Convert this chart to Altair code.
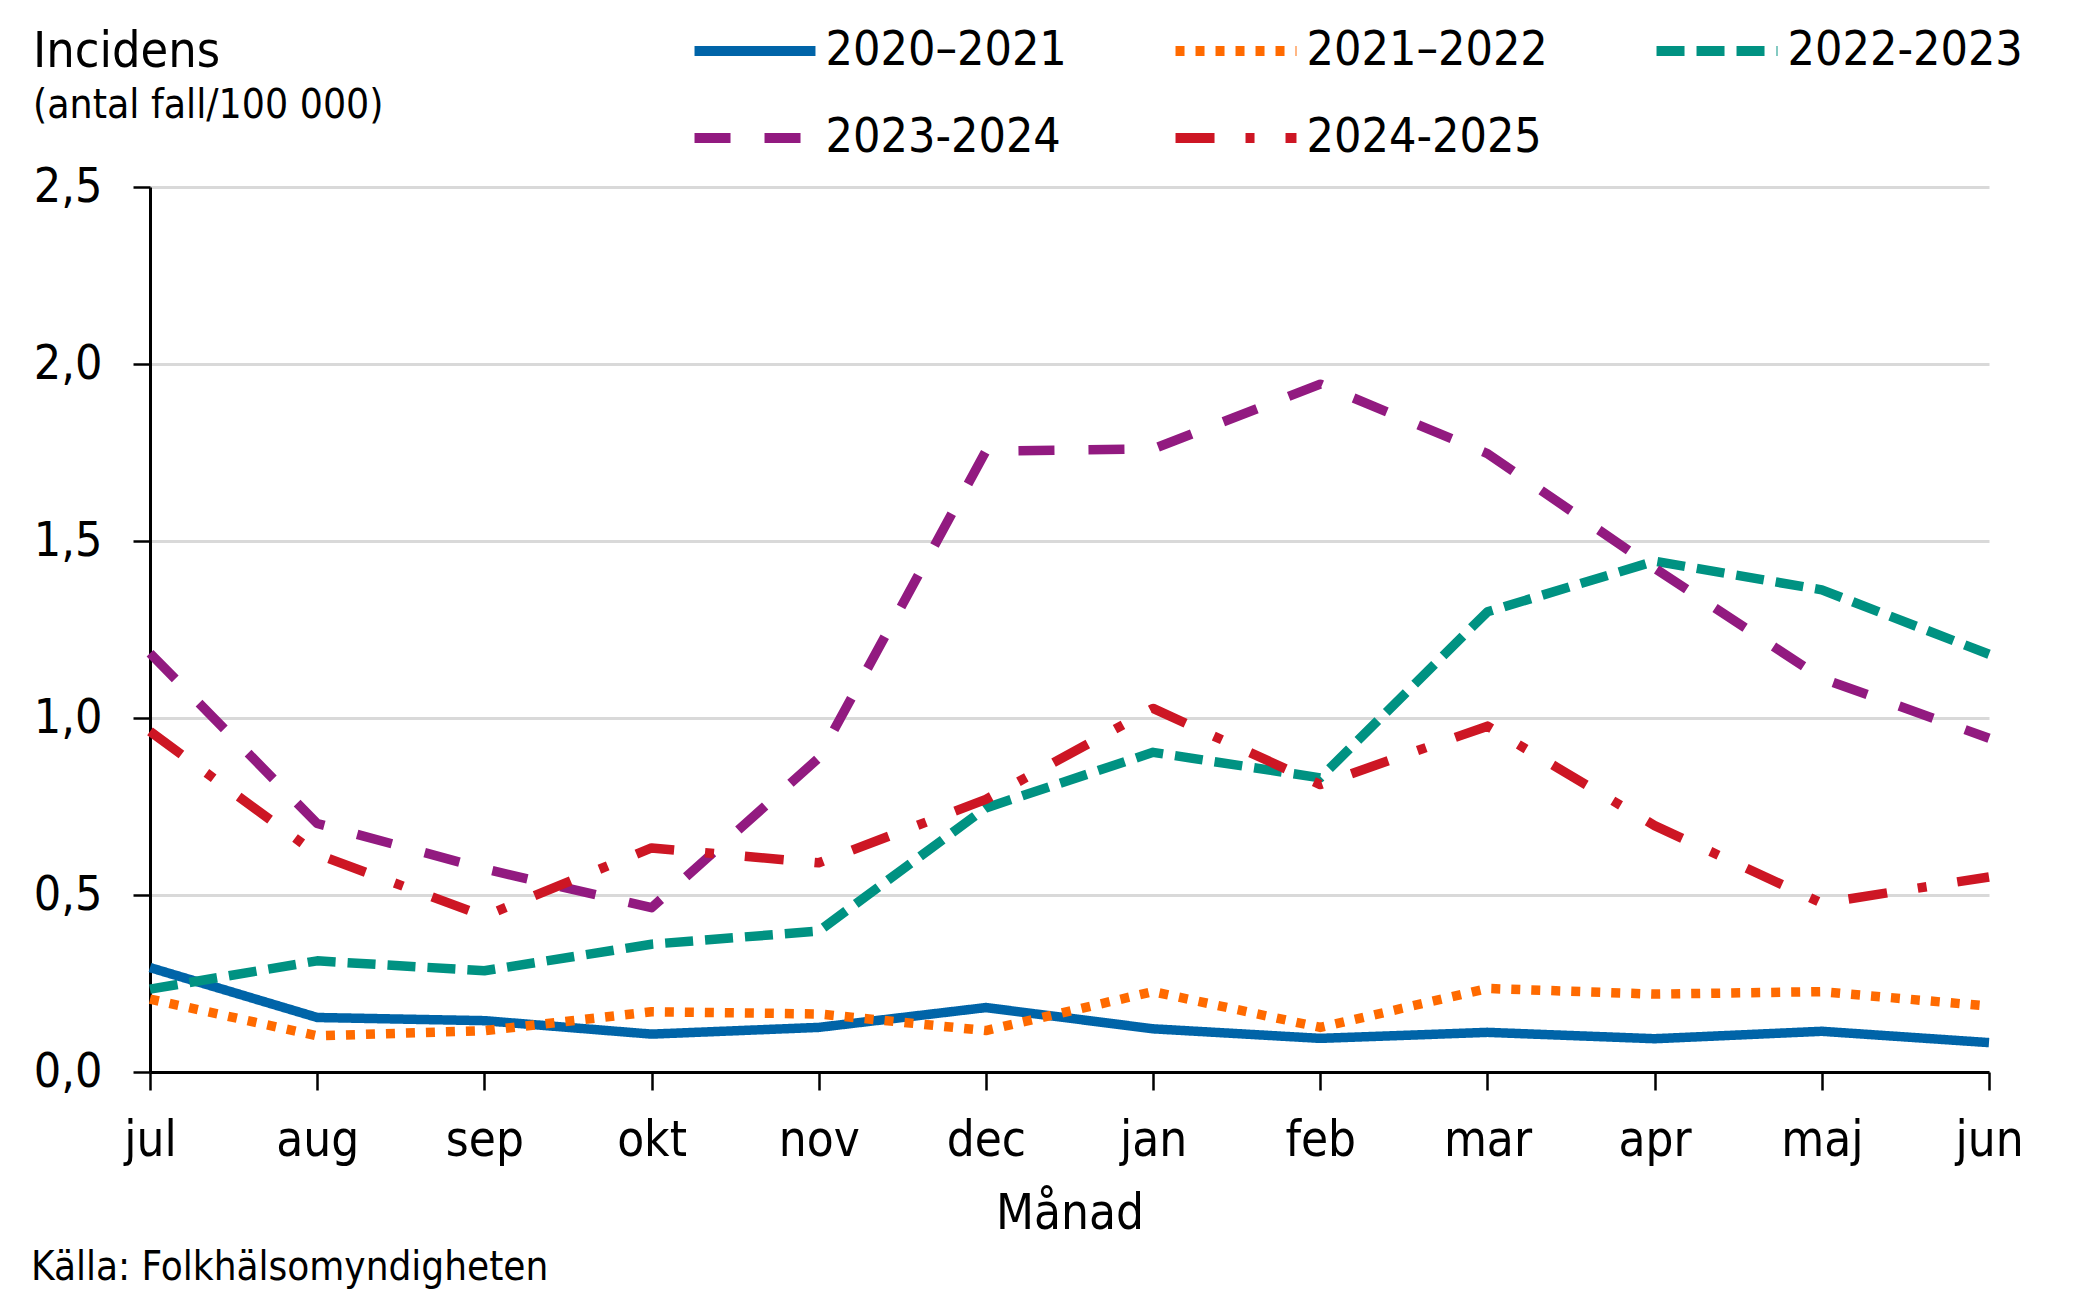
import altair as alt
import pandas as pd

MONTHS = ["jul", "aug", "sep", "okt", "nov", "dec", "jan", "feb", "mar", "apr", "maj", "jun"]
SEASONS = ["2020–2021", "2021–2022", "2022-2023", "2023-2024", "2024-2025"]

S_2020_2021 = [0.295, 0.154, 0.145, 0.107, 0.126, 0.182, 0.122, 0.095, 0.112, 0.094, 0.115, 0.083]
S_2021_2022 = [0.206, 0.102, 0.117, 0.170, 0.164, 0.117, 0.227, 0.126, 0.236, 0.220, 0.227, 0.186]
S_2022_2023 = [0.234, 0.314, 0.286, 0.361, 0.398, 0.746, 0.903, 0.831, 1.300, 1.443, 1.362, 1.180]
S_2023_2024 = [1.183, 0.702, 0.574, 0.464, 0.887, 1.754, 1.760, 1.943, 1.747, 1.423, 1.112, 0.943]
S_2024_2025 = [0.962, 0.615, 0.440, 0.633, 0.591, 0.770, 1.027, 0.812, 0.977, 0.696, 0.477, 0.551]
SERIES = [S_2020_2021, S_2021_2022, S_2022_2023, S_2023_2024, S_2024_2025]

COLORS = ["#0064a8", "#ff6a00", "#009282", "#921a80", "#cd1624"]
DASHES = [[1, 0], [9, 11], [28, 12], [36, 34], [39, 31, 9, 31]]
Y_TICKS = [0, 0.5, 1.0, 1.5, 2.0, 2.5]

TITLE = "Incidens"
SUBTITLE = "(antal fall/100 000)"
X_TITLE = "Månad"
SOURCE = "Källa: Folkhälsomyndigheten"
FONT = "DejaVu Sans Condensed"

rows = []
for season, vals in zip(SEASONS, SERIES):
    for m, v in zip(MONTHS, vals):
        rows.append({"season": season, "month": m, "value": v})
df = pd.DataFrame(rows)

legend = alt.Legend(
    title=None, orient="none", legendX=581, legendY=-160, direction="horizontal", columns=3,
    symbolType="M-5.04,0H5.04", symbolSize=576, symbolStrokeWidth=10,
    labelFont=FONT, labelFontSize=48, labelColor="black", labelOffset=46.5, labelLimit=600,
    columnPadding=88, rowPadding=39, padding=0, symbolOffset=0,
)

x_enc = alt.X(
    "month:N", sort=MONTHS, scale=alt.Scale(type="point", padding=0),
    axis=alt.Axis(
        title=X_TITLE, labelAngle=0, labelFont=FONT, labelFontSize=49, labelColor="black",
        labelPadding=26, tickSize=18, tickColor="black", tickWidth=2.5,
        domainColor="black", domainWidth=3, grid=False,
        titleFont=FONT, titleFontSize=49, titleFontWeight="normal", titleColor="black", titlePadding=24,
    ),
)
y_enc = alt.Y(
    "value:Q", scale=alt.Scale(domain=[0, 2.5], nice=False),
    axis=alt.Axis(
        values=Y_TICKS, title=None,
        labelExpr="replace(format(datum.value, '.1f'), '.', ',')",
        labelFont=FONT, labelFontSize=48, labelColor="black", labelPadding=31,
        tickSize=17, tickColor="black", tickWidth=2.5, domainColor="black", domainWidth=3,
        grid=True, gridColor="#d9d9d9", gridWidth=3,
    ),
)

lines = alt.Chart(df).mark_line(strokeWidth=9.5, strokeJoin="round").encode(
    x=x_enc,
    y=y_enc,
    color=alt.Color("season:N", scale=alt.Scale(domain=SEASONS, range=COLORS), legend=legend),
    strokeDash=alt.StrokeDash("season:N", scale=alt.Scale(domain=SEASONS, range=DASHES), legend=legend),
)


def text_layer(text, x, y, size):
    return alt.Chart(pd.DataFrame({"t": [text]})).mark_text(
        align="left", baseline="alphabetic", font=FONT, fontSize=size, color="black"
    ).encode(text="t:N", x=alt.value(x), y=alt.value(y))


chart = alt.layer(
    lines,
    text_layer(TITLE, -117, -120, 50),
    text_layer(SUBTITLE, -117, -69, 40.5),
    text_layer(SOURCE, -119, 1093, 40),
).properties(
    width=1839, height=885,
    autosize=alt.AutoSizeParams(type="none"),
    padding={"left": 142, "top": 179, "right": 82, "bottom": 220},
    background="white",
).configure_view(stroke=None)

chart.save("out.html", embed_options={"renderer": "svg", "actions": False})
